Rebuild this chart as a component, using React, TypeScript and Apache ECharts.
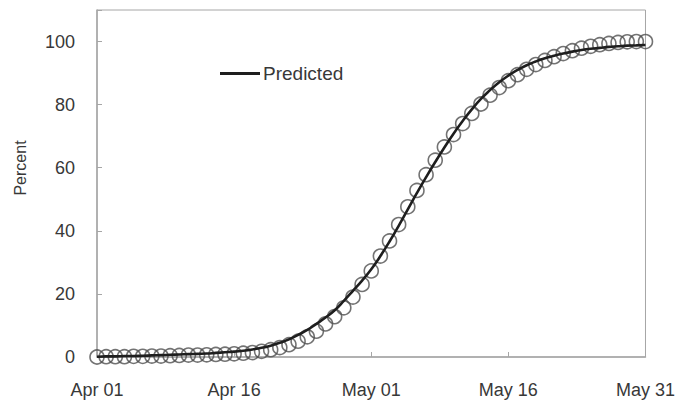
import React, { useEffect, useRef } from "react";
import * as echarts from "echarts";

// Day labels Apr 01 .. May 31
const months = ["Apr", "May"];
const monthDays = [30, 31];
const dayLabels: string[] = [];
months.forEach((m, mi) => {
  for (let d = 1; d <= monthDays[mi]; d++) {
    dayLabels.push(`${m} ${d < 10 ? "0" + d : d}`);
  }
});

// Observed percent (circles), one per day
const observed = [
  0.0, 0.1, 0.1, 0.1, 0.2, 0.2, 0.3, 0.3, 0.4, 0.5,
  0.6, 0.6, 0.7, 0.8, 0.9, 1.0, 1.2, 1.4, 1.8, 2.3,
  3.0, 3.9, 5.0, 6.4, 8.2, 10.5, 12.8, 15.6, 19.0, 23.0,
  27.3, 32.0, 36.8, 42.0, 47.6, 52.8, 57.8, 62.4, 66.6, 70.5,
  74.0, 77.2, 80.2, 83.0, 85.4, 87.6, 89.5, 91.2, 92.7, 94.0,
  95.2, 96.2, 97.1, 97.9, 98.5, 99.0, 99.4, 99.7, 99.9, 100, 100,
];

// Predicted percent (line)
const predicted = [
  0.1, 0.2, 0.2, 0.3, 0.3, 0.4, 0.5, 0.6, 0.7, 0.8,
  0.9, 1.0, 1.1, 1.3, 1.5, 1.7, 2.0, 2.4, 2.9, 3.6,
  4.5, 5.6, 7.0, 8.6, 10.5, 12.5, 14.8, 17.8, 21.0, 24.2,
  27.8, 32.0, 36.6, 41.6, 46.8, 52.0, 57.0, 61.8, 66.4, 70.8,
  74.8, 78.5, 81.8, 84.6, 87.1, 89.2, 91.0, 92.5, 93.7, 94.7,
  95.5, 96.2, 96.8, 97.3, 97.7, 98.0, 98.3, 98.5, 98.7, 98.8, 98.9,
];

const yTicks = [0, 20, 40, 60, 80, 100];

export default function App() {
  const ref = useRef<HTMLDivElement>(null);
  useEffect(() => {
    if (!ref.current) return;
    const chart = echarts.init(ref.current, undefined, { renderer: "svg" });
    const textColor = "#383838";
    const axisColor = "#a6a6a6";
    chart.setOption({
      animation: false,
      backgroundColor: "#ffffff",
      textStyle: { fontFamily: "Liberation Sans, Arial, sans-serif" },
      grid: {
        left: 97,
        right: 31,
        top: 10,
        bottom: 44,
        show: true,
        borderColor: axisColor,
        borderWidth: 1,
        containLabel: false,
      },
      legend: {
        data: ["Predicted"],
        left: 220,
        top: 64,
        padding: 0,
        icon: "rect",
        itemWidth: 40,
        itemHeight: 3,
        itemGap: 4,
        textStyle: { fontSize: 19, color: textColor, padding: [0, 0, 0, -2] },
      },
      xAxis: {
        type: "category",
        data: dayLabels,
        boundaryGap: false,
        axisLine: { lineStyle: { color: axisColor, width: 1.5 } },
        axisTick: {
          inside: true,
          length: 5,
          interval: 14,
          lineStyle: { color: axisColor },
        },
        axisLabel: {
          interval: 14,
          fontSize: 18,
          color: textColor,
          margin: 24,
        },
        splitLine: { show: false },
      },
      yAxis: {
        type: "value",
        min: 0,
        max: 110,
        interval: 20,
        axisLine: { show: true, lineStyle: { color: axisColor, width: 1.5 } },
        axisTick: { show: true, inside: true, length: 5, lineStyle: { color: axisColor } },
        axisLabel: {
          fontSize: 18,
          color: textColor,
          margin: 22,
          formatter: (v: number) => (yTicks.indexOf(v) >= 0 ? String(v) : ""),
        },
        splitLine: { show: false },
      },
      graphic: [
        {
          type: "text",
          x: 20,
          y: 168,
          rotation: Math.PI / 2,
          style: {
            text: "Percent",
            fontSize: 16,
            fill: textColor,
            align: "center",
            verticalAlign: "middle",
            fontFamily: "Liberation Sans, Arial, sans-serif",
          },
        },
      ],
      series: [
        {
          name: "Observed",
          type: "scatter",
          data: observed,
          symbol: "circle",
          symbolSize: 14,
          clip: false,
          itemStyle: {
            color: "rgba(255,255,255,0)",
            borderColor: "#505050",
            borderWidth: 1.6,
          },
          z: 2,
        },
        {
          name: "Predicted",
          type: "line",
          data: predicted,
          showSymbol: false,
          symbol: "none",
          smooth: true,
          color: "#1e1e1e",
          lineStyle: { color: "#1e1e1e", width: 2.6 },
          z: 3,
        },
      ],
    });
    return () => chart.dispose();
  }, []);
  return (
    <div
      ref={ref}
      style={{ position: "fixed", left: 0, top: 0, width: 678, height: 401 }}
    />
  );
}
